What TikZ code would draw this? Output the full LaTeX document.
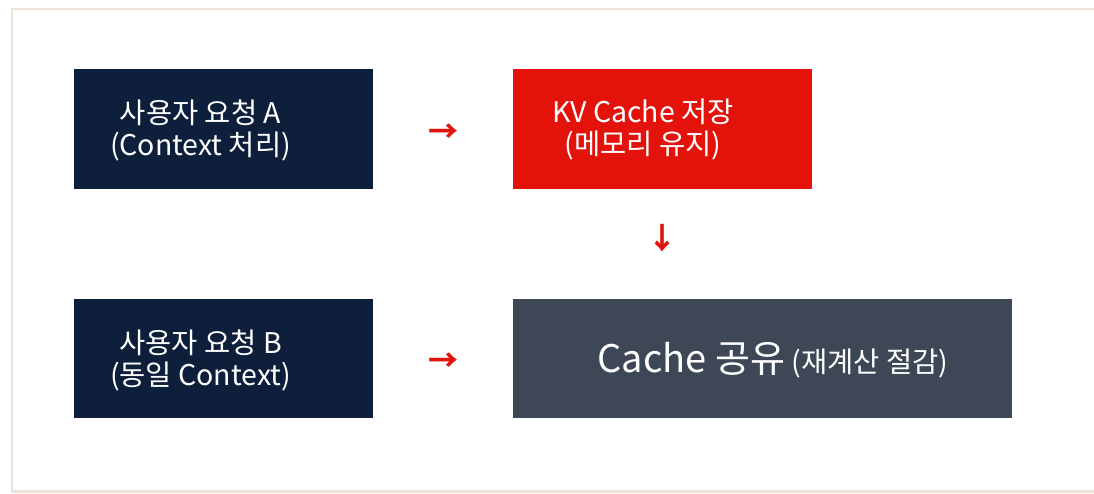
\documentclass[tikz,border=0pt]{standalone}
\usepackage{fontspec}
\setmainfont{Noto Sans CJK KR}
\definecolor{navy}{HTML}{0D1F3B}
\definecolor{kvred}{HTML}{E3130C}
\definecolor{slate}{HTML}{3D4756}
\definecolor{framec}{HTML}{ECE4D9}
\begin{document}
\begin{tikzpicture}[x=1pt,y=-1pt,
  boxs/.style={draw=none,inner sep=0pt,outer sep=0pt},
  lbl/.style={text=white,align=center,inner sep=0pt,font=\fontsize{28.5}{32}\selectfont},
  arrowglyph/.style={text=kvred,inner sep=0pt,font=\bfseries\fontsize{30}{30}\selectfont}]
\useasboundingbox (0,0) rectangle (1094,493);
\fill[white] (0,0) rectangle (1094,493);
\draw[framec,line width=2.5pt] (12,9.2) rectangle (1100,491.5);
% boxes
\fill[navy] (74,69) rectangle (373,189);
\node[boxs,minimum width=299pt,minimum height=120pt] (A) at (223.5,129) {};
\fill[kvred] (513,69) rectangle (812,189);
\node[boxs,minimum width=299pt,minimum height=120pt] (KV) at (662.5,129) {};
\fill[navy] (74,299) rectangle (373,418);
\node[boxs,minimum width=299pt,minimum height=119pt] (B) at (223.5,358.5) {};
\fill[slate] (513,299) rectangle (1012,418);
\node[boxs,minimum width=499pt,minimum height=119pt] (C) at (762.5,358.5) {};
% labels
\node[lbl] (tA) at (200.5,130) {사용자 요청 A\\(Context 처리)};
\node[lbl] (tKV) at (643,130) {KV Cache 저장\\(메모리 유지)};
\node[lbl] (tB) at (200.5,360) {사용자 요청 B\\(동일 Context)};
\node[lbl] (tC) at (773,360) {{\fontsize{38}{38}\selectfont Cache 공유} (재계산 절감)};
% arrow glyphs
\node[arrowglyph] (ar1) at (443,133) {→};
\node[arrowglyph] (ar2) at (662,238) {↓};
\node[arrowglyph] (ar3) at (443,362) {→};
\end{tikzpicture}
\end{document}
